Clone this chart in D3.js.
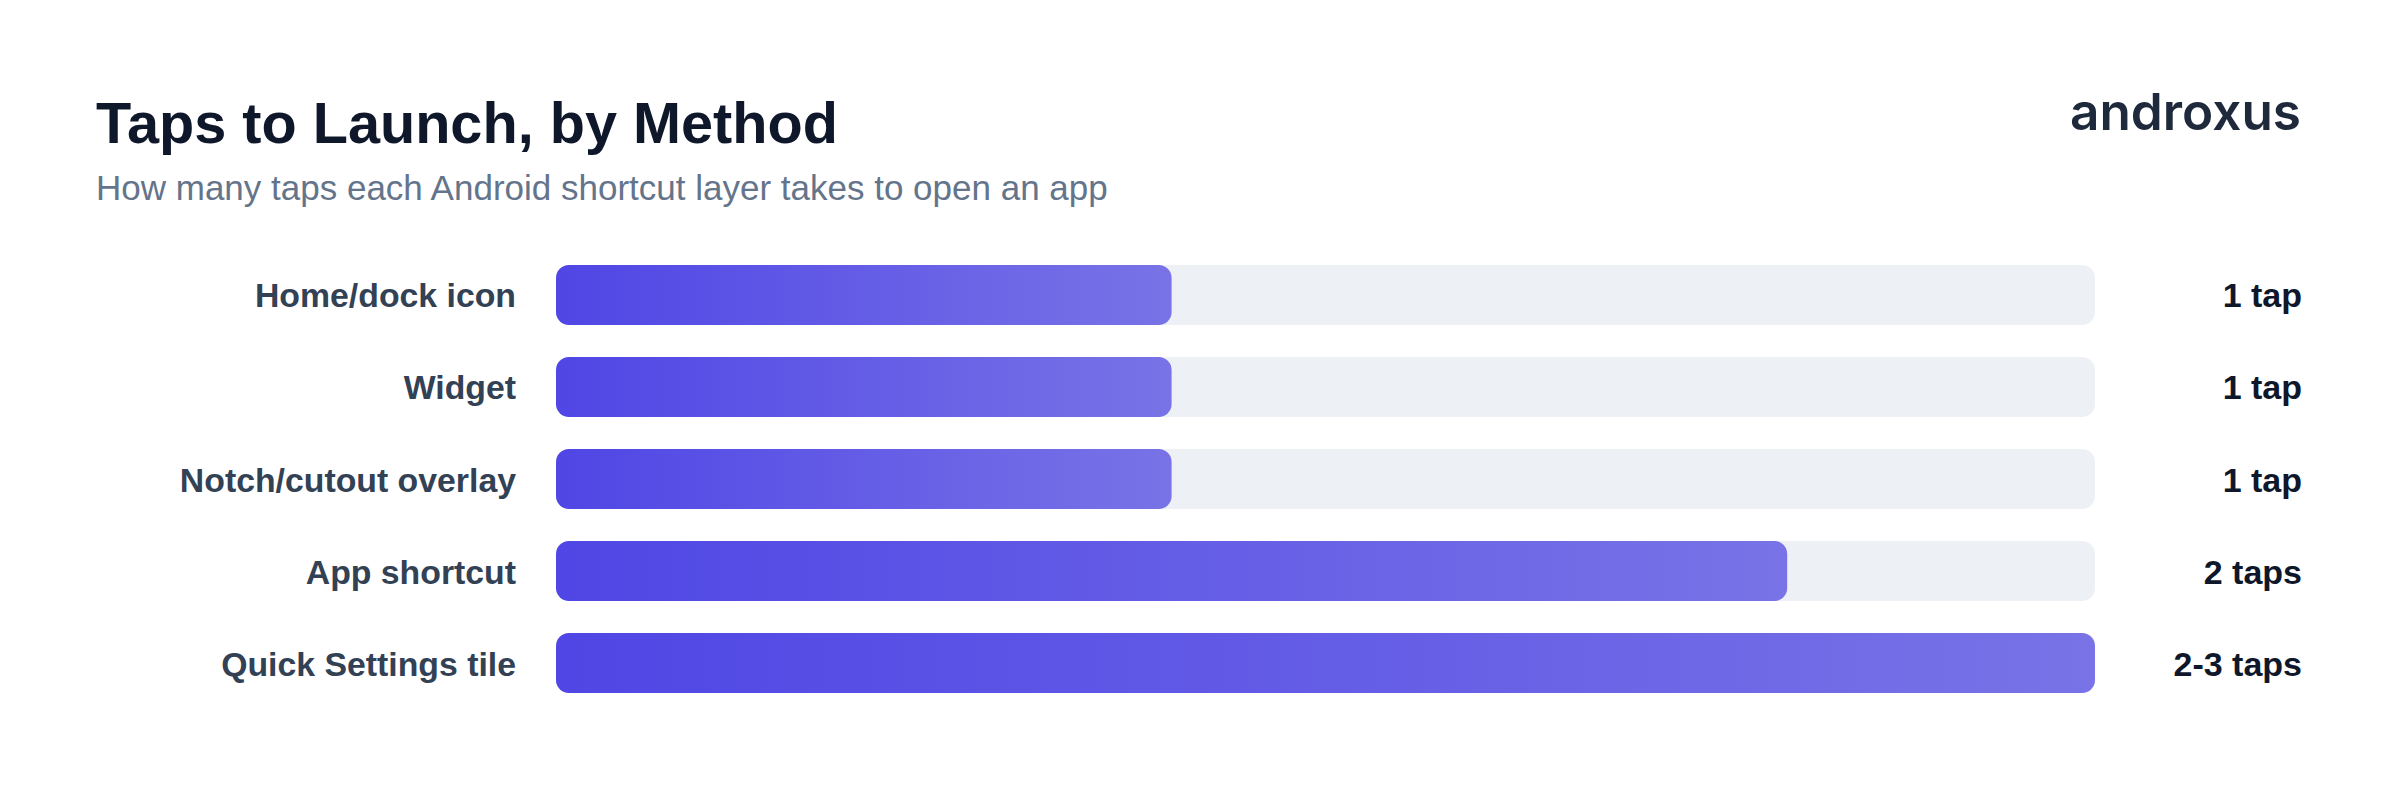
<!DOCTYPE html>
<html>
<head>
<meta charset="utf-8">
<script src="https://cdn.jsdelivr.net/npm/d3@7"></script>
<style>
  html, body { margin: 0; padding: 0; background: #ffffff; }
  svg { display: block; }
  text { font-family: "Liberation Sans", Arial, Helvetica, sans-serif; }
</style>
</head>
<body>
<svg id="chart" width="2400" height="790"></svg>
<script>
const categories = ["Home/dock icon", "Widget", "Notch/cutout overlay", "App shortcut", "Quick Settings tile"];
const taps = [1, 1, 1, 2, 2.5];
const valueLabels = ["1 tap", "1 tap", "1 tap", "2 taps", "2-3 taps"];
const xMax = 2.5;
const title = "Taps to Launch, by Method";
const subtitle = "How many taps each Android shortcut layer takes to open an app";
const brand = "androxus";

const W = 2400, H = 790;
const svg = d3.select("#chart");

const x = d3.scaleLinear().domain([0, xMax]).range([556, 2095]);
const y = d3.scaleBand().domain(categories).range([265, 693]).paddingInner(0.348).paddingOuter(0);

const defs = svg.append("defs");
const grad = defs.append("linearGradient")
  .attr("id", "barGrad")
  .attr("x1", "0%").attr("x2", "100%").attr("y1", "0%").attr("y2", "0%");
grad.append("stop").attr("offset", "0%").attr("stop-color", "#4f46e5");
grad.append("stop").attr("offset", "100%").attr("stop-color", "#7973e7");

// Title & subtitle
const t = svg.append("text")
  .attr("x", 96).attr("y", 143)
  .attr("font-size", 57).attr("font-weight", 700)
  .attr("fill", "#0f172a")
  .text(title);
t.attr("font-size", 57 * 742 / t.node().getComputedTextLength());

const st = svg.append("text")
  .attr("x", 96).attr("y", 200)
  .attr("font-size", 32)
  .attr("fill", "#64748b")
  .text(subtitle);
st.attr("font-size", 32 * 1012 / st.node().getComputedTextLength());

// Brand
const b = svg.append("text")
  .attr("x", 2301).attr("y", 130)
  .attr("text-anchor", "end")
  .attr("font-weight", 600)
  .attr("font-size", 52)
  .attr("fill", "#1e293b")
  .style("font-family", "Inter, 'Open Sans', sans-serif")
  .text(brand);
const bw = b.node().getComputedTextLength();
b.attr("font-size", 52 * 231 / bw);

// Tracks
svg.append("g").selectAll("rect")
  .data(categories)
  .join("rect")
  .attr("x", x(0))
  .attr("y", d => y(d))
  .attr("width", x(xMax) - x(0))
  .attr("height", y.bandwidth())
  .attr("rx", 13)
  .attr("fill", "#edf1f5");

// Bars
svg.append("g").selectAll("rect")
  .data(categories)
  .join("rect")
  .attr("x", x(0))
  .attr("y", d => y(d))
  .attr("width", (d, i) => x(taps[i]) - x(0))
  .attr("height", y.bandwidth())
  .attr("rx", 13)
  .attr("fill", "url(#barGrad)");

// Category labels
svg.append("g").selectAll("text")
  .data(categories)
  .join("text")
  .attr("x", 516)
  .attr("y", d => y(d) + y.bandwidth() / 2 + 12.5)
  .attr("text-anchor", "end")
  .attr("font-size", 33.8)
  .attr("font-weight", 700)
  .attr("fill", "#334155")
  .text(d => d);

// Value labels
svg.append("g").selectAll("text")
  .data(categories)
  .join("text")
  .attr("x", 2302)
  .attr("y", d => y(d) + y.bandwidth() / 2 + 12.5)
  .attr("text-anchor", "end")
  .attr("font-size", 34)
  .attr("font-weight", 700)
  .attr("fill", "#0f172a")
  .text((d, i) => valueLabels[i]);
</script>
</body>
</html>
